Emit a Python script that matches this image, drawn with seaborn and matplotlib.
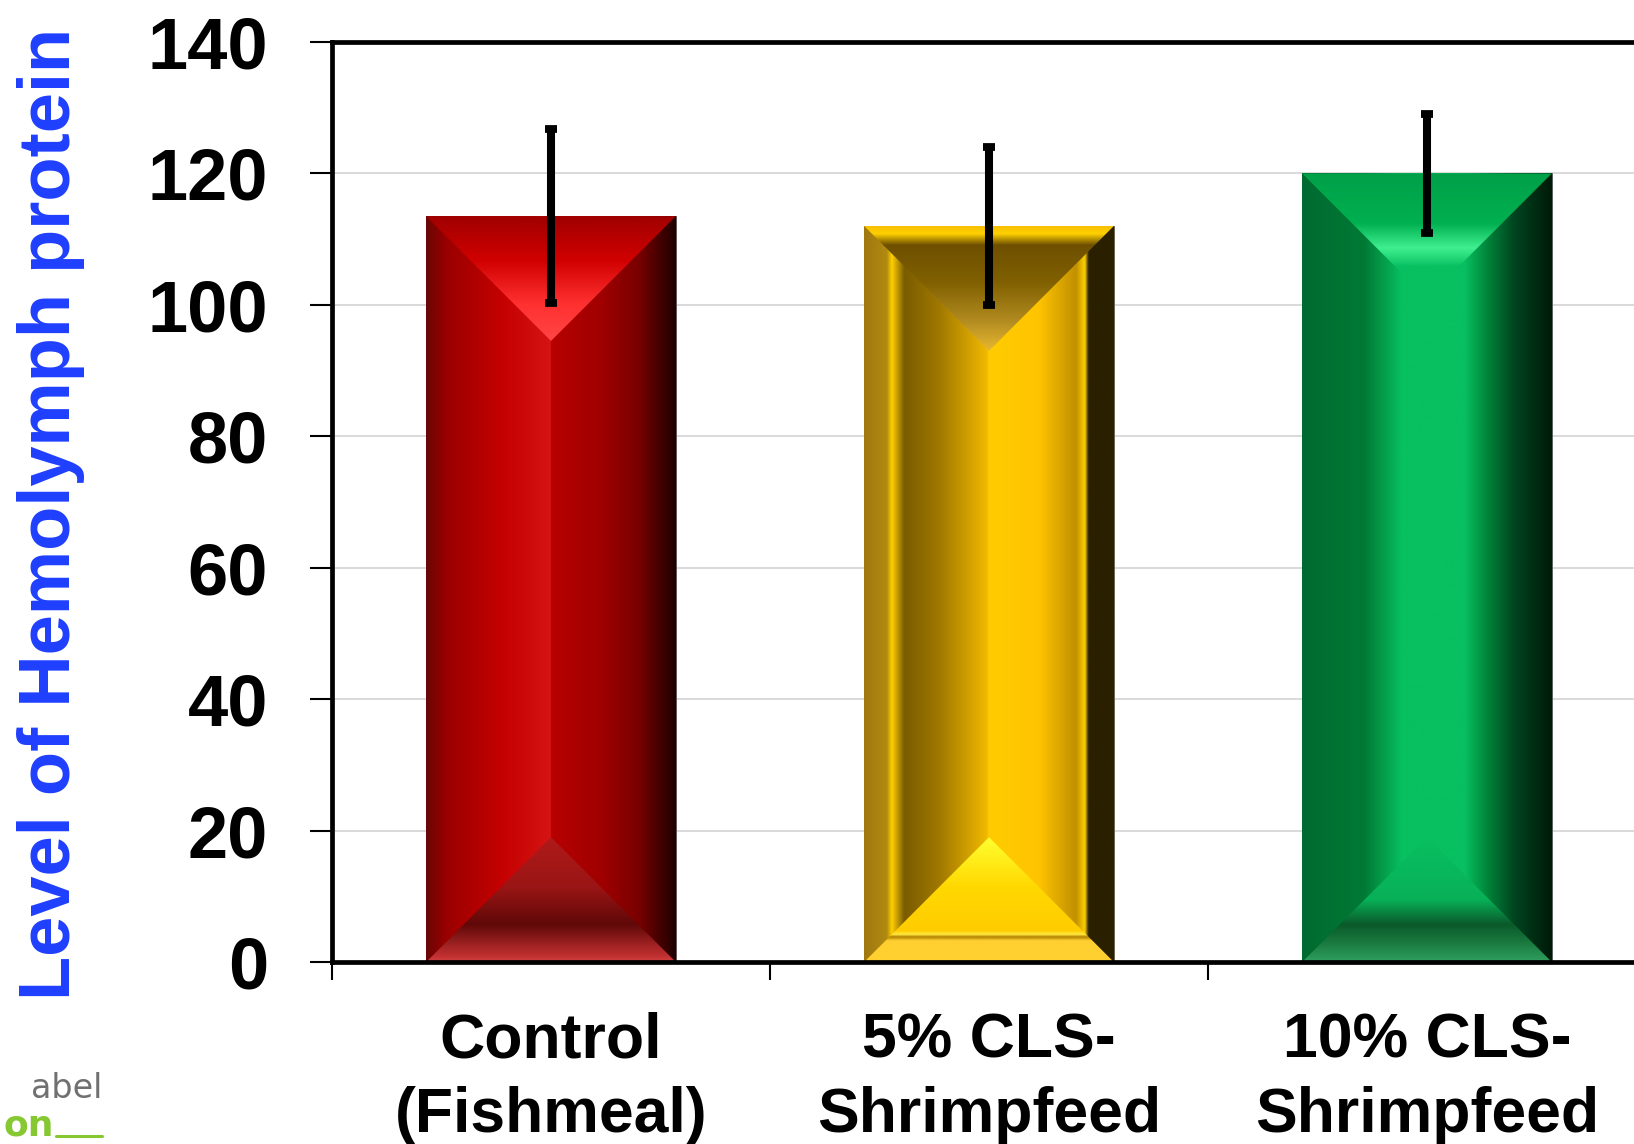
import numpy as np
import pandas as pd
import matplotlib
matplotlib.use("Agg")
import matplotlib.pyplot as plt
import seaborn as sns
from matplotlib.patches import Polygon
from matplotlib.colors import LinearSegmentedColormap

# ----------------------------
# dados
# ----------------------------
categorias = ["Control\n(Fishmeal)", "5% CLS-\nShrimpfeed", "10% CLS-\nShrimpfeed"]
medias = [113.5, 112.0, 120.0]
erros = [13.2, 12.0, 9.0]
cores = ["#CC0000", "#FFC000", "#00B050"]
yticks = [0, 20, 40, 60, 80, 100, 120, 140]

# gradientes (efeito chanfrado estilo Excel)
efeitos = [
    {   # vermelho
        "corpo": [(0, "#6A0606"), (0.08, "#9A0000"), (0.3, "#C40000"), (0.5, "#D61414"),
                  (0.501, "#B80000"), (0.7, "#A00000"), (0.85, "#7A0000"), (1, "#1E0000")],
        "topo": [(0, "#A00000"), (0.35, "#D00000"), (0.7, "#FF3030"), (1, "#FF4545")],
        "base": [(0, "#B01A1A"), (0.4, "#9A1515"), (0.7, "#600808"), (0.95, "#C03030"), (1, "#D04040")],
    },
    {   # dourado
        "corpo": [(0, "#A07810"), (0.09, "#B08A10"), (0.11, "#FFD000"), (0.16, "#7A5C00"),
                  (0.3, "#A07800"), (0.49, "#F0B800"), (0.501, "#FFCC00"), (0.7, "#FFC400"),
                  (0.85, "#C09000"), (0.885, "#FFD000"), (0.9, "#2A2000"), (1, "#2A2000")],
        "topo": [(0, "#F8C000"), (0.06, "#FFD000"), (0.15, "#6E5000"), (0.45, "#806000"),
                 (0.75, "#B08A20"), (1, "#E8B830")],
        "base": [(0, "#FFFF30"), (0.4, "#FFD800"), (0.75, "#FFCC00"), (0.78, "#FFE840"),
                 (0.8, "#B08000"), (0.83, "#FFD030"), (1, "#FFD030")],
    },
    {   # verde
        "corpo": [(0, "#006A30"), (0.25, "#007A35"), (0.4, "#08C060"), (0.65, "#08C060"),
                  (0.75, "#008038"), (0.85, "#004520"), (0.95, "#002810"), (1, "#001A08")],
        "topo": [(0, "#00A048"), (0.4, "#00B050"), (0.6, "#40F090"), (0.75, "#08C060"), (1, "#08C060")],
        "base": [(0, "#08C060"), (0.5, "#08B058"), (0.7, "#0A5A2A"), (0.85, "#1A7A40"), (1, "#30A060")],
    },
]

sns.set_theme(style="white")
plt.rcParams["font.family"] = ["Liberation Sans", "DejaVu Sans"]
plt.rcParams["font.weight"] = "bold"
plt.rcParams["text.color"] = "black"
plt.rcParams["xtick.color"] = "black"
plt.rcParams["ytick.color"] = "black"

fig = plt.figure(figsize=(16.34, 11.44), dpi=100)
ax = fig.add_axes([332 / 1634, 182 / 1144, 1314 / 1634, 920 / 1144])

df = pd.DataFrame({"grupo": categorias, "valor": medias})
sns.barplot(data=df, x="grupo", y="valor", hue="grupo", palette=cores, legend=False,
            width=0.57, saturation=1, errorbar=None, ax=ax, zorder=2,
            edgecolor="#505050", linewidth=0.6)

ax.set_xlim(-0.5, 2.5)
ax.set_ylim(0, 140)


def cmap_de(stops):
    return LinearSegmentedColormap.from_list("g", stops)


# ----------------------------
# chanfros
# ----------------------------
px_x = ax.transData.transform([(1, 0)])[0][0] - ax.transData.transform([(0, 0)])[0][0]
px_y = ax.transData.transform([(0, 1)])[0][1] - ax.transData.transform([(0, 0)])[0][1]

for p, ef in zip(ax.patches, efeitos):
    x0, w, h = p.get_x(), p.get_width(), p.get_height()
    d = (w * px_x / 2) / px_y

    corpo = cmap_de(ef["corpo"])(np.linspace(0, 1, 512))[None, :, :]
    im = ax.imshow(corpo, extent=[x0, x0 + w, 0, h], aspect="auto", zorder=2.1,
                   interpolation="bilinear")
    im.set_clip_path(p)

    topo = cmap_de(ef["topo"])(np.linspace(0, 1, 256))[:, None, :]
    tri = Polygon([(x0, h), (x0 + w, h), (x0 + w / 2, h - d)], closed=True,
                  transform=ax.transData)
    im = ax.imshow(topo, extent=[x0, x0 + w, h - d, h], aspect="auto", zorder=2.2,
                   interpolation="bilinear")
    im.set_clip_path(tri)

    base = cmap_de(ef["base"])(np.linspace(0, 1, 256))[:, None, :]
    tri = Polygon([(x0, 0), (x0 + w, 0), (x0 + w / 2, d)], closed=True,
                  transform=ax.transData)
    im = ax.imshow(base, extent=[x0, x0 + w, 0, d], aspect="auto", zorder=2.2,
                   interpolation="bilinear")
    im.set_clip_path(tri)

ax.errorbar(x=np.arange(len(medias)), y=medias, yerr=erros, fmt="none", ecolor="black",
            elinewidth=5.8, capsize=4.3, capthick=5.6, zorder=4)

ax.set_xlim(-0.5, 2.5)
ax.set_ylim(0, 140)

# ----------------------------
# eixos
# ----------------------------
ax.set_axisbelow(True)
ax.yaxis.grid(True, color="#D9D9D9", linewidth=1.4)
ax.xaxis.grid(False)

ax.set_yticks(yticks)
ax.set_yticklabels([str(v) for v in yticks], fontsize=52, fontweight="bold")
ax.tick_params(axis="y", which="major", length=16, width=1.5, color="black",
               labelcolor="black", direction="out", pad=30, left=True)

ax.set_xticks([-0.5, 0.5, 1.5, 2.5])
ax.set_xticklabels([])
ax.tick_params(axis="x", which="major", length=13, width=1.5, color="black",
               direction="out", bottom=True)
ax.set_xticks([0, 1, 2], minor=True)
ax.set_xticklabels(categorias, minor=True, fontsize=45, fontweight="bold",
                   linespacing=1.32)
ax.tick_params(axis="x", which="minor", length=0, pad=36, labelcolor="black")

ax.set_xlabel("")
ax.set_ylabel("Level of Hemolymph protein", fontsize=52, fontweight="bold", color="#1F3FFF")
ax.yaxis.set_label_coords(-0.188, 0.487)

for lado in ["left", "top", "bottom"]:
    ax.spines[lado].set_visible(True)
    ax.spines[lado].set_color("black")
    ax.spines[lado].set_linewidth(3.4)
ax.spines["right"].set_visible(False)

# marca d'agua do canto
fig.text(102 / 1634, 1 - 1098 / 1144, "abel", ha="right", va="baseline", fontsize=24,
         color="#707070", fontweight="normal", family=["DejaVu Sans"])
fig.text(54 / 1634, 1 - 1143 / 1144, "on", ha="right", va="bottom", fontsize=26,
         color="#86C832", fontweight="bold", family=["DejaVu Sans"])
fig.add_artist(plt.Line2D([56 / 1634, 102 / 1634], [1 - 1136 / 1144, 1 - 1136 / 1144],
                          color="#86C832", linewidth=2.2, transform=fig.transFigure))

fig.savefig("out.png", dpi=100)
